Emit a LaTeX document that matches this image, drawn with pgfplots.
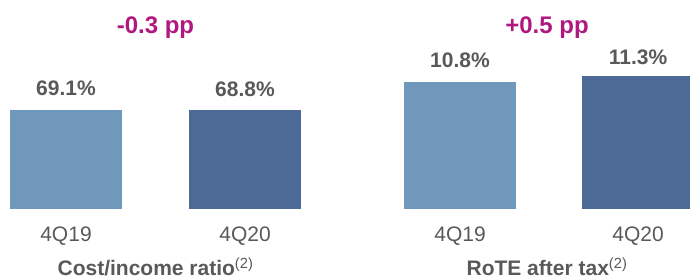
\documentclass[border=0pt]{standalone}
\usepackage{pgfplots}
\pgfplotsset{compat=1.18}
\usepackage{fontspec}
\setmainfont{Liberation Sans}
\definecolor{lightbar}{HTML}{7098BB}
\definecolor{darkbar}{HTML}{4D6A96}
\definecolor{ppcol}{HTML}{B0187F}
\definecolor{txt}{HTML}{595959}
\begin{document}
\begin{tikzpicture}[x=1bp,y=1bp]
\useasboundingbox (0,0) rectangle (690,279);
\pgfplotsset{
  panel/.style={
    scale only axis,
    axis line style={draw=none},
    tick style={draw=none},
    ytick=\empty,
    ymin=0,
    xtick={0,1},
    xticklabels={4Q19,4Q20},
    clip mode=individual,
    /pgf/number format/assume math mode=true,
    xticklabel style={font=\fontsize{21bp}{25bp}\selectfont, text=txt, anchor=north, inner sep=0pt, yshift=-18bp},
    xlabel style={font=\bfseries\fontsize{21bp}{25bp}\selectfont, text=txt, at={(axis description cs:0.5,0)}, anchor=base, yshift=-66.5bp, inner sep=0pt},
    title style={font=\bfseries\fontsize{24bp}{28bp}\selectfont, text=ppcol, inner sep=0pt},
    nodes near coords={\pgfmathprintnumber[fixed,precision=1,fixed zerofill]{\pgfplotspointmeta}\%},
    nodes near coords style={font=\bfseries\fontsize{21bp}{25bp}\selectfont, text=txt, anchor=base, yshift=14bp, inner sep=0pt},
  },
  mybar/.style={ybar, bar width=112bp, bar shift=0pt, draw=none, fill=#1},
}
\begin{axis}[panel,
  at={(10bp,70bp)}, anchor=south west,
  width=291bp, height=99bp,
  xmin=-0.3128, xmax=1.3128, ymax=69.1,
  title={-0.3 pp},
  title style={at={(axis description cs:0.5,1.657)}, anchor=south},
  xlabel={Cost/income ratio\textsuperscript{\mdseries(2)}},
]
\addplot[mybar=lightbar] coordinates {(0,69.1)};
\addplot[mybar=darkbar] coordinates {(1,68.8)};
\end{axis}
\begin{axis}[panel,
  at={(404bp,70bp)}, anchor=south west,
  width=286bp, height=133bp,
  xmin=-0.3146, xmax=1.2921, ymax=11.3,
  title={+0.5 pp},
  title style={at={(axis description cs:0.5,1.2331)}, anchor=south},
  xlabel={RoTE after tax\textsuperscript{\mdseries(2)}},
]
\addplot[mybar=lightbar] coordinates {(0,10.8)};
\addplot[mybar=darkbar, nodes near coords style={yshift=-3bp}] coordinates {(1,11.3)};
\end{axis}
\end{tikzpicture}
\end{document}
